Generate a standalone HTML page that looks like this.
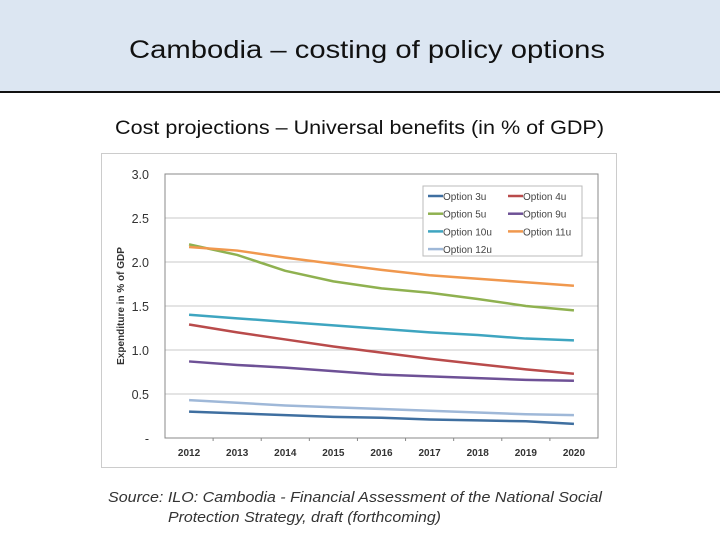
<!DOCTYPE html>
<html><head><meta charset="utf-8"><style>
body{margin:0;width:720px;height:540px;background:#fff;overflow:hidden;font-family:"Liberation Sans",sans-serif}
</style></head><body>
<svg width="720" height="540" viewBox="0 0 720 540" xmlns="http://www.w3.org/2000/svg">
<rect x="0" y="0" width="720" height="91" fill="#dce6f2"/>
<rect x="0" y="91" width="720" height="2" fill="#111"/>
<text x="129" y="58" font-size="25" textLength="476" lengthAdjust="spacingAndGlyphs" fill="#111">Cambodia – costing of policy options</text>
<text x="115" y="134" font-size="19" textLength="489" lengthAdjust="spacingAndGlyphs" fill="#111">Cost projections – Universal benefits (in % of GDP)</text>
<rect x="101.5" y="153.5" width="515" height="314" fill="#fff" stroke="#ccc"/>
<g id="chart"></g>
<text x="108" y="502" font-size="14.5" font-style="italic" fill="#333" textLength="494" lengthAdjust="spacingAndGlyphs">Source: ILO: Cambodia - Financial Assessment of the National Social</text>
<text x="168" y="522" font-size="14.5" font-style="italic" fill="#333" textLength="273" lengthAdjust="spacingAndGlyphs">Protection Strategy, draft (forthcoming)</text>
</svg>
<script>
const years=['2012','2013','2014','2015','2016','2017','2018','2019','2020'];
const yTicks=[0,0.5,1.0,1.5,2.0,2.5,3.0];
const yTickLabels=['-','0.5','1.0','1.5','2.0','2.5','3.0'];
const seriesNames=['Option 3u','Option 4u','Option 5u','Option 9u','Option 10u','Option 11u','Option 12u'];
const seriesColors=['#3f6fa0','#b94b4b','#8fb150','#6e5196','#3ea5c0','#f0984e','#9fb8d8'];
const opt3u=[0.30,0.28,0.26,0.24,0.23,0.21,0.20,0.19,0.16];
const opt4u=[1.29,1.20,1.12,1.04,0.97,0.90,0.84,0.78,0.73];
const opt5u=[2.20,2.08,1.90,1.78,1.70,1.65,1.58,1.50,1.45];
const opt9u=[0.87,0.83,0.80,0.76,0.72,0.70,0.68,0.66,0.65];
const opt10u=[1.40,1.36,1.32,1.28,1.24,1.20,1.17,1.13,1.11];
const opt11u=[2.17,2.13,2.05,1.98,1.91,1.85,1.81,1.77,1.73];
const opt12u=[0.43,0.40,0.37,0.35,0.33,0.31,0.29,0.27,0.26];
const seriesData=[opt3u,opt4u,opt5u,opt9u,opt10u,opt11u,opt12u];

const NS='http://www.w3.org/2000/svg';
const g=document.getElementById('chart');
const L=165,R=598,T=174,B=438,yMax=3.0;
const step=(R-L)/years.length;
const xs=i=>L+step*(i+0.5);
const ys=v=>B-(v/yMax)*(B-T);
function mk(t,a){const e=document.createElementNS(NS,t);for(const k in a)e.setAttribute(k,a[k]);g.appendChild(e);return e;}
yTicks.forEach((v,i)=>{
  if(v>0){const l=mk('line',{x1:L,x2:R,y1:ys(v),y2:ys(v),stroke:'#c8c8c8','stroke-width':1});
  
  }
  const t=mk('text',{x:149,y:ys(v)+5,'font-size':12.5,'text-anchor':'end',fill:'#333'});
  t.textContent=yTickLabels[i];
  
  
});
const box=mk('rect',{x:L,y:T,width:R-L,height:B-T,fill:'none',stroke:'#888','stroke-width':1});


years.forEach((y,i)=>{
  if(i>0){const tk=mk('line',{x1:L+step*i,x2:L+step*i,y1:B,y2:B+3,stroke:'#888'});
  
  }
  const t=mk('text',{x:xs(i),y:456,'font-size':10,'font-weight':'bold','text-anchor':'middle',fill:'#333'});
  t.textContent=y;
  
  
});
const yt=mk('text',{x:0,y:0,'font-size':10,'font-weight':'bold','text-anchor':'middle',fill:'#333',transform:'translate(124,306) rotate(-90)'});
yt.textContent='Expenditure in % of GDP';


seriesData.forEach((d,s)=>{
  const p=mk('polyline',{points:d.map((v,i)=>xs(i)+','+ys(v)).join(' '),fill:'none',stroke:seriesColors[s],'stroke-width':2.5,'stroke-linejoin':'round'});
  
  
});
const lb=mk('rect',{x:423,y:186,width:159,height:70,fill:'#fff',stroke:'#bbb'});


seriesNames.forEach((n,s)=>{
  const cx=428+(s%2)*80, cy=196+Math.floor(s/2)*17.7;
  const l=mk('line',{x1:cx,x2:cx+15,y1:cy,y2:cy,stroke:seriesColors[s],'stroke-width':2.5});
  
  
  const t=mk('text',{x:cx+15,y:cy+4,'font-size':10,fill:'#444'});
  t.textContent=n;
  
  
});
</script>
</body></html>
